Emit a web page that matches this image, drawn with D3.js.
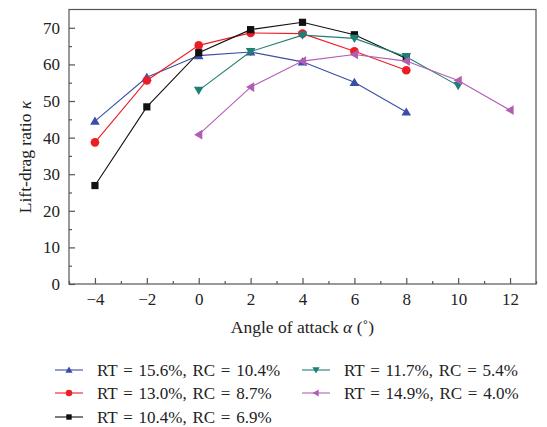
<!DOCTYPE html>
<html>
<head>
<meta charset="utf-8">
<script src="https://cdn.jsdelivr.net/npm/d3@7/dist/d3.min.js"></script>
<style>
  html, body { margin: 0; padding: 0; background: #fff; }
  svg { display: block; font-family: "Liberation Serif", "DejaVu Serif", serif; }
</style>
</head>
<body>
<svg id="chart" width="547" height="427"></svg>
<script>
// Lift-drag ratio versus angle of attack for five airfoil configurations
const angles = [-4, -2, 0, 2, 4, 6, 8, 10, 12];

const seriesNames = [
  "RT = 15.6%, RC = 10.4%",
  "RT = 13.0%, RC = 8.7%",
  "RT = 10.4%, RC = 6.9%",
  "RT = 11.7%, RC = 5.4%",
  "RT = 14.9%, RC = 4.0%"
];

// values aligned with `angles`; null where no measurement
const valsRT156 = [44.5, 56.5, 62.4, 63.4, 60.7, 55.1, 47.0, null, null];
const valsRT130 = [38.7, 55.6, 65.2, 68.6, 68.4, 63.6, 58.4, null, null];
const valsRT104 = [26.9, 48.4, 63.2, 69.5, 71.5, 68.1, 61.6, null, null];
const valsRT117 = [null, null, 52.9, 63.5, 68.0, 67.1, 62.1, 54.2, null];
const valsRT149 = [null, null, 40.8, 53.8, 60.9, 62.7, 60.9, 55.6, 47.5];

const seriesColors = ["#3a4ea6", "#ee1d24", "#111111", "#1e8075", "#b25db4"];
const seriesSymbols = ["triangleUp", "circle", "square", "triangleDown", "triangleLeft"];

const xTicks = [-4, -2, 0, 2, 4, 6, 8, 10, 12];
const yTicks = [0, 10, 20, 30, 40, 50, 60, 70];

const allValues = [valsRT156, valsRT130, valsRT104, valsRT117, valsRT149];

const svg = d3.select("#chart");
const margin = { left: 69, top: 9.5, right: 11, bottom: 143 };
const W = 547, H = 427;

const x = d3.scaleLinear().domain([-5, 13]).range([margin.left, W - margin.right]);
const y = d3.scaleLinear().domain([0, 75]).range([H - margin.bottom, margin.top]);

const axisColor = "#555";

// frame
svg.append("rect")
  .attr("x", x(-5)).attr("y", y(75))
  .attr("width", x(13) - x(-5)).attr("height", y(0) - y(75))
  .attr("fill", "none").attr("stroke", axisColor).attr("stroke-width", 1.2);

// x axis: major ticks on even angles, minor ticks between
const gx = svg.append("g").attr("transform", `translate(0,${y(0)})`);
gx.call(d3.axisBottom(x).tickValues(xTicks).tickSize(-6).tickPadding(9)
  .tickFormat(d => d < 0 ? "\u2212" + Math.abs(d) : d));
gx.append("g").call(d3.axisBottom(x).tickValues(d3.range(-5, 14, 2)).tickSize(-3).tickFormat(""));
gx.selectAll(".domain").remove();

// y axis
const gy = svg.append("g").attr("transform", `translate(${x(-5)},0)`);
gy.call(d3.axisLeft(y).tickValues(yTicks).tickSize(-6).tickPadding(9));
gy.append("g").call(d3.axisLeft(y).tickValues(d3.range(5, 75, 10)).tickSize(-3).tickFormat(""));
gy.selectAll(".domain").remove();

svg.selectAll(".tick line").attr("stroke", axisColor).attr("stroke-width", 1.2);
svg.selectAll(".tick text")
  .attr("fill", "#222").style("font-size", "17px")
  .style("font-family", "'Liberation Serif', serif");

// axis titles
svg.append("text")
  .attr("x", x(4)).attr("y", 333)
  .attr("text-anchor", "middle").attr("fill", "#222")
  .style("font-size", "17.5px")
  .html('Angle of attack <tspan font-style="italic">\u03b1</tspan> (\u02da)');

svg.append("text")
  .attr("transform", "translate(31,157) rotate(-90)")
  .attr("text-anchor", "middle").attr("fill", "#222")
  .style("font-size", "17.5px")
  .html('Lift-drag ratio <tspan font-style="italic">\u03ba</tspan>');

// marker shapes, r = half width
function symbolPath(kind, r) {
  switch (kind) {
    case "triangleUp":
      return `M0,${-r*0.95}L${r},${r*0.75}L${-r},${r*0.75}Z`;
    case "triangleDown":
      return `M0,${r*0.95}L${r},${-r*0.75}L${-r},${-r*0.75}Z`;
    case "triangleLeft":
      return `M${-r*0.95},0L${r*0.75},${-r}L${r*0.75},${r}Z`;
    case "square":
      return `M${-r*0.75},${-r*0.75}H${r*0.75}V${r*0.75}H${-r*0.75}Z`;
    default:
      return d3.symbol(d3.symbolCircle, Math.PI * (r*0.9) * (r*0.9))();
  }
}

const line = d3.line()
  .defined(d => d.v != null)
  .x(d => x(d.a)).y(d => y(d.v));

allValues.forEach((vals, i) => {
  const pts = angles.map((a, k) => ({ a, v: vals[k] }));
  const g = svg.append("g");
  g.append("path")
    .datum(pts)
    .attr("d", line)
    .attr("fill", "none")
    .attr("stroke", seriesColors[i])
    .attr("stroke-width", 1.1);
  g.selectAll("path.pt")
    .data(pts.filter(d => d.v != null))
    .join("path")
    .attr("class", "pt")
    .attr("transform", d => `translate(${x(d.a)},${y(d.v)})`)
    .attr("d", symbolPath(seriesSymbols[i], 4.8))
    .attr("fill", seriesColors[i]);
});

// legend
const legendPos = [
  { lx: 55, ty: 370 }, { lx: 55, ty: 393 }, { lx: 55, ty: 417 },
  { lx: 302, ty: 370 }, { lx: 302, ty: 393 }
];
seriesNames.forEach((name, i) => {
  const p = legendPos[i];
  const g = svg.append("g").attr("transform", `translate(${p.lx},${p.ty})`);
  g.append("line").attr("x1", 0).attr("x2", 28).attr("y1", 0).attr("y2", 0)
    .attr("stroke", seriesColors[i]).attr("stroke-width", 1.1);
  g.append("path").attr("transform", "translate(14,0)")
    .attr("d", symbolPath(seriesSymbols[i], 3.6)).attr("fill", seriesColors[i]);
  g.append("text").attr("x", 42).attr("y", 0).attr("dy", "0.35em")
    .attr("fill", "#222").style("font-size", "17px")
    .style("word-spacing", "1.5px")
    .text(name);
});
</script>
</body>
</html>
